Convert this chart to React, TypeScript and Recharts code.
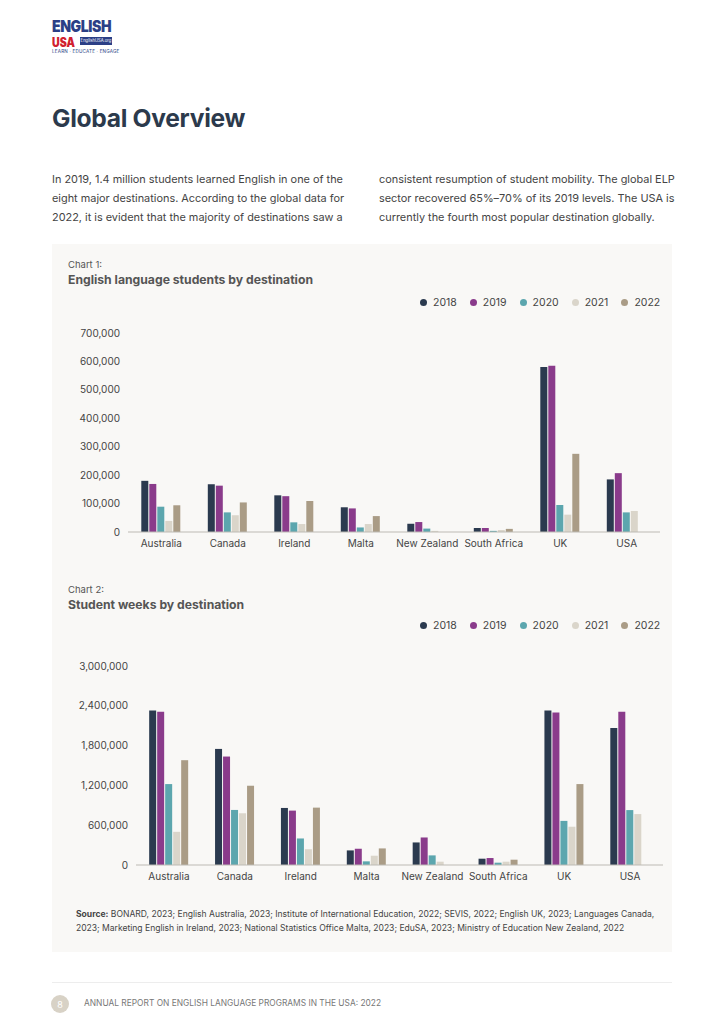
import React from 'react';
import { BarChart, Bar, XAxis, YAxis } from 'recharts';

const destinations = ['Australia', 'Canada', 'Ireland', 'Malta', 'New Zealand', 'South Africa', 'UK', 'USA'];
const years = ['2018', '2019', '2020', '2021', '2022'];
const yearColors = ['#2b3a4f', '#8a3b8b', '#5ca6ae', '#dad5ca', '#aa9c86'];

// Chart 1: students
const students2018 = [180000, 168000, 129000, 87000, 29000, 14000, 580000, 185000];
const students2019 = [169000, 163000, 126000, 83000, 35000, 14000, 585000, 207000];
const students2020 = [89000, 69000, 34000, 16000, 12000, 4000, 95000, 69000];
const students2021 = [39000, 59000, 28000, 28000, 4000, 7000, 61000, 74000];
const students2022 = [94000, 104000, 109000, 56000, null, 11000, 275000, null];
const studentTicks = [0, 100000, 200000, 300000, 400000, 500000, 600000, 700000];

// Chart 2: student weeks
const weeks2018 = [2330000, 1750000, 860000, 220000, 340000, 95000, 2330000, 2065000];
const weeks2019 = [2310000, 1635000, 820000, 245000, 415000, 105000, 2300000, 2310000];
const weeks2020 = [1220000, 830000, 400000, 55000, 145000, 35000, 665000, 828000];
const weeks2021 = [500000, 780000, 236000, 140000, 50000, 50000, 577000, 768000];
const weeks2022 = [1580000, 1195000, 865000, 250000, null, 80000, 1220000, null];
const weekTicks = [0, 600000, 1200000, 1800000, 2400000, 3000000];

const buildRows = (series: (number | null)[][]) =>
  destinations.map((name, i) => {
    const row: any = { name };
    years.forEach((y, k) => {
      row[y] = series[k][i];
    });
    return row;
  });

const studentRows = buildRows([students2018, students2019, students2020, students2021, students2022]);
const weekRows = buildRows([weeks2018, weeks2019, weeks2020, weeks2021, weeks2022]);

const FONT = 'Inter, "Noto Sans", sans-serif';
const fmt = (v: number) => Number(v).toLocaleString('en-US');

const YearLegend = () => (
  <div style={{ display: 'flex', alignItems: 'center', fontFamily: FONT, fontSize: 10.5, color: '#444' }}>
    {years.map((y, i) => (
      <div key={y} style={{ display: 'flex', alignItems: 'center', marginLeft: i === 0 ? 0 : 13 }}>
        <span
          style={{
            width: 7,
            height: 7,
            borderRadius: '50%',
            background: yearColors[i],
            display: 'inline-block',
            marginRight: 6,
          }}
        />
        <span>{y}</span>
      </div>
    ))}
  </div>
);

interface DestChartProps {
  data: any[];
  ticks: number[];
  height: number;
  marginTop: number;
  yWidth: number;
  marginRight: number;
}

const DestinationChart: React.FC<DestChartProps> = ({ data, ticks, height, marginTop, yWidth, marginRight }) => (
  <BarChart
    width={620}
    height={height}
    data={data}
    margin={{ top: marginTop, right: marginRight, left: 0, bottom: 0 }}
    barCategoryGap="20%"
    barGap={1}
  >
    <XAxis
      dataKey="name"
      tickLine={false}
      axisLine={{ stroke: '#bdbab4' }}
      tick={{ fill: '#444', fontSize: 10, fontFamily: FONT }}
      interval={0}
      height={28}
    />
    <YAxis
      width={yWidth}
      domain={[0, ticks[ticks.length - 1]]}
      ticks={ticks}
      tickFormatter={fmt}
      tickLine={false}
      axisLine={false}
      tick={{ fill: '#444', fontSize: 10, fontFamily: FONT }}
    />
    {years.map((y, i) => (
      <Bar key={y} dataKey={y} fill={yearColors[i]} isAnimationActive={false} />
    ))}
  </BarChart>
);

const abs = (left: number, top: number): React.CSSProperties => ({ position: 'absolute', left, top });

const App: React.FC = () => {
  return (
    <div
      style={{
        position: 'absolute',
        left: 0,
        top: 0,
        width: 724,
        height: 1024,
        background: '#ffffff',
        fontFamily: FONT,
        overflow: 'hidden',
      }}
    >
      {/* logo */}
      <div
        style={{
          ...abs(52, 19),
          fontSize: 16,
          lineHeight: '15px',
          fontWeight: 900,
          color: '#2b3f86',
          letterSpacing: -0.5,
          whiteSpace: 'nowrap',
          transform: 'scaleX(0.88)',
          transformOrigin: 'left top',
        }}
      >
        ENGLISH
      </div>
      <div
        style={{
          ...abs(52, 37),
          fontSize: 12.5,
          lineHeight: '11px',
          fontWeight: 900,
          color: '#d0202e',
          whiteSpace: 'nowrap',
          transform: 'scaleX(0.85)',
          transformOrigin: 'left top',
        }}
      >
        USA
      </div>
      <div style={{ ...abs(80, 37), width: 32, height: 8, background: '#2b3f86', color: '#fff', fontSize: 4.2, lineHeight: '8px', textAlign: 'center', whiteSpace: 'nowrap' }}>
        EnglishUSA.org
      </div>
      <div style={{ ...abs(52, 49), fontSize: 4.6, lineHeight: '6px', color: '#2b3f86', letterSpacing: 0.2, whiteSpace: 'nowrap' }}>
        LEARN · EDUCATE · ENGAGE
      </div>

      {/* title */}
      <div style={{ ...abs(52, 103), fontSize: 24.6, fontWeight: 700, color: '#2c3a4c', letterSpacing: -0.3 }}>
        Global Overview
      </div>

      {/* intro */}
      <div style={{ ...abs(52, 170), fontSize: 10.9, lineHeight: '19px', color: '#444', whiteSpace: 'nowrap' }}>
        In 2019, 1.4 million students learned English in one of the
        <br />
        eight major destinations. According to the global data for
        <br />
        2022, it is evident that the majority of destinations saw a
      </div>
      <div style={{ ...abs(379, 170), fontSize: 10.9, lineHeight: '19px', color: '#444', whiteSpace: 'nowrap' }}>
        consistent resumption of student mobility. The global ELP
        <br />
        sector recovered 65%–70% of its 2019 levels. The USA is
        <br />
        currently the fourth most popular destination globally.
      </div>

      {/* panel */}
      <div style={{ ...abs(52, 244), width: 620, height: 708, background: '#f9f8f6' }} />

      <div style={{ ...abs(68, 259), fontSize: 9.5, color: '#555' }}>Chart 1:</div>
      <div style={{ ...abs(68, 272), fontSize: 12.2, fontWeight: 700, color: '#555' }}>
        English language students by destination
      </div>
      <div style={{ ...abs(420, 296) }}>
        <YearLegend />
      </div>
      <div style={abs(52, 290)}>
        <DestinationChart data={studentRows} ticks={studentTicks} height={270} marginTop={43} yWidth={76} marginRight={12} />
      </div>

      <div style={{ ...abs(68, 584), fontSize: 9.5, color: '#555' }}>Chart 2:</div>
      <div style={{ ...abs(68, 597), fontSize: 12.2, fontWeight: 700, color: '#555' }}>Student weeks by destination</div>
      <div style={{ ...abs(420, 619) }}>
        <YearLegend />
      </div>
      <div style={abs(52, 613)}>
        <DestinationChart data={weekRows} ticks={weekTicks} height={280} marginTop={53} yWidth={84} marginRight={9} />
      </div>

      {/* source */}
      <div style={{ ...abs(76, 907), fontSize: 8.55, lineHeight: '14px', color: '#444', whiteSpace: 'nowrap' }}>
        <b>Source:</b> BONARD, 2023; English Australia, 2023; Institute of International Education, 2022; SEVIS, 2022; English UK, 2023; Languages Canada,
        <br />
        2023; Marketing English in Ireland, 2023; National Statistics Office Malta, 2023; EduSA, 2023; Ministry of Education New Zealand, 2022
      </div>

      {/* footer */}
      <div style={{ ...abs(52, 982), width: 620, height: 1, background: '#ededed' }} />
      <div
        style={{
          ...abs(51, 995),
          width: 18,
          height: 18,
          borderRadius: '50%',
          background: '#d8d2c6',
          color: '#fff',
          fontSize: 9,
          display: 'flex',
          alignItems: 'center',
          justifyContent: 'center',
        }}
      >
        8
      </div>
      <div style={{ ...abs(84, 998), fontSize: 8.4, color: '#777', whiteSpace: 'nowrap' }}>
        ANNUAL REPORT ON ENGLISH LANGUAGE PROGRAMS IN THE USA: 2022
      </div>
    </div>
  );
};

export default App;
